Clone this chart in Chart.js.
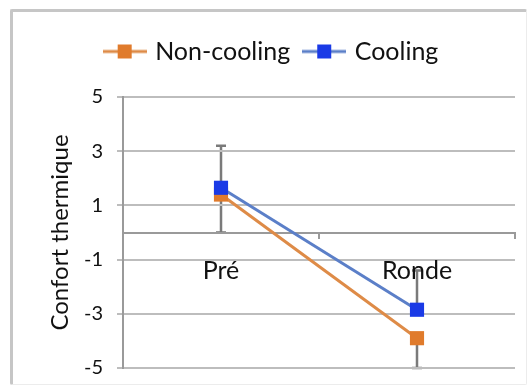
<!DOCTYPE html>
<html>
<head>
<meta charset="utf-8">
<script src="https://cdn.jsdelivr.net/npm/chart.js@4"></script>
<style>
  body { margin: 0; background: #fff; }
  #wrap { position: relative; width: 532px; height: 388px; }
  #frame {
    position: absolute; left: 10px; top: 9px; width: 517px; height: 376px;
    border-top: 3px solid #c6c6c6; border-left: 3px solid #c6c6c6;
    border-right: 1px solid #ececec; border-bottom: 1px solid #ececec;
    border-radius: 2px; box-sizing: border-box;
  }
  canvas { position: absolute; left: 0; top: 0; }
</style>
</head>
<body>
<div id="wrap">
  <div id="frame"></div>
  <canvas id="lineChart" width="532" height="388"></canvas>
</div>
<script>
// values
var categories = ['Pré', 'Ronde'];
var nonCooling = [1.4, -3.9];
var cooling = [1.65, -2.85];
// error bars: cooling only upwards, non-cooling only downwards
var coolingErrPlus = [1.55, 1.45];
var nonCoolingErrMinus = [1.4, 1.1];
var yTicks = [-5, -3, -1, 1, 3, 5];

var fontFamily = 'Lato, "Open Sans", sans-serif';

// legend marker: line with a square in the middle
function legendMarker(lineColor, boxColor) {
    var c = document.createElement('canvas');
    c.width = 44;
    c.height = 16;
    var g = c.getContext('2d');
    g.strokeStyle = lineColor;
    g.lineWidth = 3;
    g.beginPath();
    g.moveTo(0, 8);
    g.lineTo(44, 8);
    g.stroke();
    g.fillStyle = boxColor;
    g.fillRect(15, 1, 14, 14);
    return c;
}

var errorBars = {
    id: 'errorBars',
    beforeDraw: function (chart) {
        var ctx = chart.ctx;
        var x = chart.scales.x;
        var y = chart.scales.y;
        ctx.save();
        ctx.strokeStyle = '#7a7a7a';
        ctx.lineWidth = 2.5;
        chart.data.datasets.forEach(function (ds) {
            ds.data.forEach(function (v, i) {
                var px = x.getPixelForValue(i);
                var from = y.getPixelForValue(v);
                var to = y.getPixelForValue(v + (ds.errPlus ? ds.errPlus[i] : 0) - (ds.errMinus ? ds.errMinus[i] : 0));
                ctx.beginPath();
                ctx.moveTo(px, from);
                ctx.lineTo(px, to);
                ctx.moveTo(px - 5, to);
                ctx.lineTo(px + 5, to);
                ctx.stroke();
            });
        });
        ctx.restore();
    }
};

// extra room under the legend
var legendGap = {
    id: 'legendGap',
    beforeLayout: function (chart) {
        var lg = chart.legend;
        if (lg && !lg._gapPatched) {
            var fit = lg.fit;
            lg.fit = function () {
                fit.call(this);
                this.height += 23;
            };
            lg._gapPatched = true;
        }
    }
};

document.addEventListener('DOMContentLoaded', function () {
    var ctx = document.getElementById('lineChart').getContext('2d');

    var chart = new Chart(ctx, {
        type: 'line',
        data: {
            labels: categories,
            datasets: [
                {
                    label: 'Non-cooling',
                    data: nonCooling,
                    errMinus: nonCoolingErrMinus,
                    borderColor: '#de8b47',
                    backgroundColor: '#e07b2c',
                    borderWidth: 3,
                    pointStyle: 'rect',
                    pointRadius: 10,
                    pointBorderWidth: 0,
                    pointBackgroundColor: '#e07b2c',
                    order: 1,
                    legendMarker: legendMarker('#de8b47', '#e07b2c')
                },
                {
                    label: 'Cooling',
                    data: cooling,
                    errPlus: coolingErrPlus,
                    borderColor: '#5b7fc8',
                    backgroundColor: '#1a3ae6',
                    borderWidth: 3,
                    pointStyle: 'rect',
                    pointRadius: 10,
                    pointBorderWidth: 0,
                    pointBackgroundColor: '#1a3ae6',
                    order: 0,
                    legendMarker: legendMarker('#5b7fc8', '#1a3ae6')
                }
            ]
        },
        options: {
            responsive: false,
            animation: false,
            layout: {
                padding: { left: 30, right: 17, top: 23, bottom: 20 }
            },
            plugins: {
                tooltip: { enabled: false },
                legend: {
                    position: 'top',
                    labels: {
                        usePointStyle: true,
                        pointStyleWidth: 36,
                        padding: 16,
                        color: '#111',
                        font: { family: fontFamily, size: 25 },
                        generateLabels: function (chart) {
                            return chart.data.datasets.map(function (ds, i) {
                                return {
                                    text: ds.label,
                                    datasetIndex: i,
                                    pointStyle: ds.legendMarker,
                                    fillStyle: ds.backgroundColor,
                                    strokeStyle: ds.borderColor,
                                    lineWidth: 0,
                                    fontColor: '#111'
                                };
                            });
                        }
                    }
                }
            },
            scales: {
                x: {
                    position: { y: 0 },
                    offset: true,
                    grid: {
                        offset: true,
                        drawOnChartArea: false,
                        drawTicks: true,
                        tickLength: 5,
                        color: '#9a9a9a',
                        lineWidth: 2
                    },
                    border: { display: true, color: '#9a9a9a', width: 2 },
                    ticks: {
                        padding: 18,
                        color: '#111',
                        font: { family: fontFamily, size: 25 }
                    }
                },
                y: {
                    min: -5,
                    max: 5,
                    afterBuildTicks: function (scale) {
                        scale.ticks = yTicks.map(function (v) { return { value: v }; });
                    },
                    afterFit: function (scale) {
                        scale.width = 93;
                        scale.paddingTop = 12;
                        scale.paddingBottom = 12;
                    },
                    grid: {
                        color: '#bdbdbd',
                        lineWidth: 2,
                        tickLength: 6
                    },
                    border: { display: true, color: '#9a9a9a', width: 2 },
                    ticks: {
                        padding: 14,
                        color: '#111',
                        font: { family: fontFamily, size: 20 }
                    },
                    title: {
                        display: true,
                        text: 'Confort thermique',
                        color: '#111',
                        padding: { top: 16, bottom: 0 },
                        font: { family: fontFamily, size: 24 }
                    }
                }
            }
        },
        plugins: [errorBars, legendGap]
    });
});
</script>
</body>
</html>
